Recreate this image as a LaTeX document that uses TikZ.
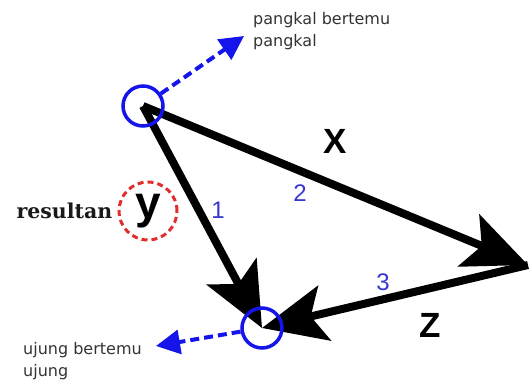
\documentclass[tikz,border=0pt]{standalone}
\usepackage{fontspec}
\newfontfamily\lsans{Liberation Sans}
\newfontfamily\dsans{DejaVu Sans}
\newfontfamily\dserif{DejaVu Serif}
\usepackage{tikz}
\usetikzlibrary{arrows.meta, positioning, backgrounds}
\definecolor{ringblue}{RGB}{20,20,235}
\definecolor{numblue}{RGB}{55,55,205}
\definecolor{ringred}{RGB}{225,45,45}
\tikzset{
  ring/.style={circle,draw=ringblue,line width=3.5pt,minimum size=40pt,inner sep=0pt},
  redring/.style={circle,draw=ringred,line width=3pt,dash pattern=on 6pt off 4pt,minimum size=58pt,inner sep=0pt,font=\lsans\bfseries\fontsize{46}{46}\selectfont},
  vec/.style={-{Stealth[length=64pt,width=56pt,inset=14pt]},line width=8pt},
  hint/.style={-{Triangle[length=24pt,width=24pt]},draw=ringblue,line width=4pt,dash pattern=on 9pt off 5pt},
  note/.style={align=left,inner sep=0pt,text=black!80,font=\dsans\fontsize{16}{22}\selectfont},
  num/.style={text=numblue,inner sep=0pt,font=\lsans\fontsize{24}{24}\selectfont},
  big/.style={inner sep=0pt,font=\lsans\bfseries\fontsize{35}{35}\selectfont}
}
\begin{document}
\begin{tikzpicture}[x=1pt,y=-1pt]
  \useasboundingbox (0,0) rectangle (529,383);

  \node[ring] (pkl) at (143,106) {};
  \node[ring] (ujg) at (262,328) {};
  \coordinate (kanan) at (528,265);
  \coordinate (tipA) at (244,36);
  \coordinate (tipB) at (156,346);

  \begin{scope}[on background layer]
    \foreach \s/\t in {pkl.center/ujg.center,pkl.center/kanan,kanan/ujg.center}
      \draw[vec] (\s) -- (\t);
  \end{scope}

  \draw[hint] (pkl) -- (tipA);
  \draw[hint] (ujg) -- (tipB);

  \node[note, anchor=west] (pkltxt) at (253,31) {pangkal bertemu\\pangkal};
  \node[note, anchor=west] (ujgtxt) at (23,361) {ujung bertemu\\ujung};

  \node[redring] (res) at (148,211) {y};
  \node[left=5pt of res, inner sep=0pt, text=black!90, font=\dserif\bfseries\fontsize{20.5}{20.5}\selectfont] (restxt) {resultan};

  \node[big] (lx) at (335,141) {X};
  \node[big] (lz) at (430,325) {Z};
  \node[num] (n1) at (218,210) {1};
  \node[num] (n2) at (300,193) {2};
  \node[num] (n3) at (383,282) {3};
\end{tikzpicture}
\end{document}
